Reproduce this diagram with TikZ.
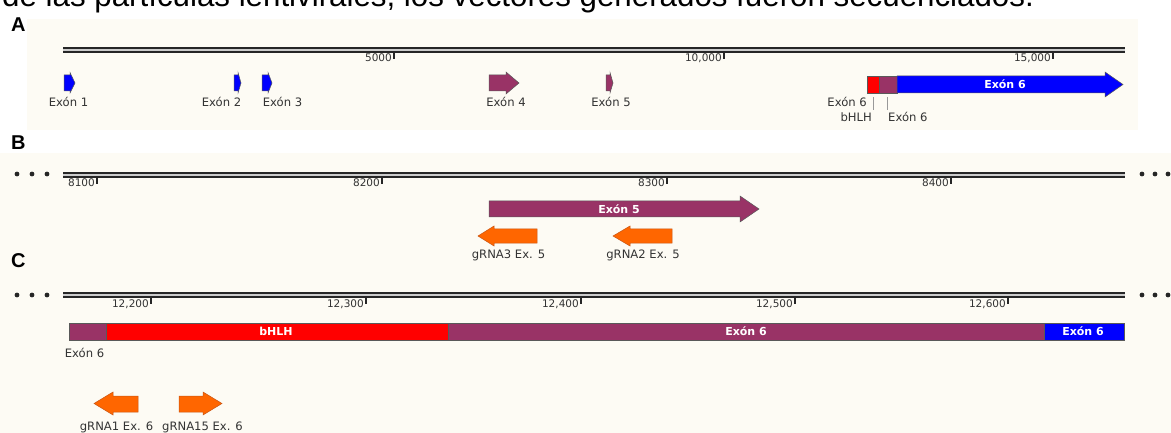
\documentclass[tikz,border=0pt]{standalone}
\usepackage{fontspec}
\setmainfont{DejaVu Sans}
\newfontfamily\arialf{Liberation Sans}
\definecolor{cream}{RGB}{253,251,244}
\definecolor{exonp}{RGB}{153,51,102}
\definecolor{exonb}{RGB}{0,0,255}
\definecolor{bhlhr}{RGB}{255,0,0}
\definecolor{grna}{RGB}{255,102,0}
\definecolor{grnaedge}{RGB}{200,85,20}
\definecolor{txt}{RGB}{51,51,51}
\tikzset{
  feat/.style={draw=black!65, line width=0.5pt},
  grnaarrow/.style={fill=grna, draw=grnaedge, line width=0.5pt},
  lbl/.style={font=\fontsize{11.6}{13}\selectfont, text=txt, inner sep=0pt},
  ticklbl/.style={font=\fontsize{10.5}{12}\selectfont, text=txt, inner sep=0pt, anchor=east},
  inlbl/.style={font=\bfseries\fontsize{11}{13}\selectfont, text=white, inner sep=0pt},
  panellbl/.style={font=\arialf\bfseries\fontsize{20}{22}\selectfont, inner sep=0pt, anchor=west},
  tickmark/.style={line width=1.3pt, black!85},
  leader/.style={black!40, line width=0.6pt},
  dotmark/.style={fill=black!85},
}
\begin{document}
\begin{tikzpicture}[x=1pt,y=-1pt]
\useasboundingbox (0,0) rectangle (1171,433);
\clip (0,0) rectangle (1171,433);
\fill[white] (0,0) rectangle (1171,433);
% backgrounds
\fill[cream] (27,19) rectangle (1138,130);
\fill[cream] (0,153) rectangle (1171,433);
% top cut text
\node[font=\arialf\fontsize{31.3}{34}\selectfont, anchor=base west, inner sep=0pt] (toptext) at (2,7) {de las partículas lentivirales, los vectores generados fueron secuenciados.};
% panel labels
\node[panellbl] (pA) at (11,25) {A};
\node[panellbl] (pB) at (11,143) {B};
\node[panellbl] (pC) at (11,261) {C};

% ===== Panel A =====
\fill[black!85] (63,47) rectangle (1125,53);
\draw[white!80!black, line width=1.3pt] (63,50) -- (1125,50);
\draw[tickmark] (394,53) -- (394,59);
\draw[tickmark] (724,53) -- (724,59);
\draw[tickmark] (1053,53) -- (1053,59);
\node[ticklbl] (a5000) at (392,58) {5000};
\node[ticklbl] (a10000) at (722,58) {10,000};
\node[ticklbl] (a15000) at (1051,58) {15,000};

\path[feat, fill=exonb] (64,75) -- (70,75) -- (70,72.5) -- (75,83) -- (70,93) -- (70,91) -- (64,91) -- cycle;
\path[feat, fill=exonb] (234,75) -- (238,75) -- (238,72.5) -- (241,83) -- (238,93) -- (238,91) -- (234,91) -- cycle;
\path[feat, fill=exonb] (262,75) -- (268,75) -- (268,72.5) -- (272,83) -- (268,93) -- (268,91) -- (262,91) -- cycle;
\path[feat, fill=exonp] (489,75) -- (506,75) -- (506,72) -- (519,83) -- (506,94) -- (506,91) -- (489,91) -- cycle;
\path[feat, fill=exonp] (606,75) -- (610,75) -- (610,72.5) -- (613,83) -- (610,93) -- (610,91) -- (606,91) -- cycle;
\path[feat, fill=bhlhr] (867,76) rectangle (879,93);
\path[feat, fill=exonp] (879,76) rectangle (897,93);
\path[feat, fill=exonb] (897,76) -- (1105,76) -- (1105,72) -- (1123,84.5) -- (1105,97) -- (1105,93) -- (897,93) -- cycle;
\node[inlbl] (aex6in) at (1005,84.5) {Exón 6};

\node[lbl] (aex1) at (68.5,102) {Exón 1};
\node[lbl] (aex2) at (221.5,102) {Exón 2};
\node[lbl] (aex3) at (282.5,102) {Exón 3};
\node[lbl] (aex4) at (506,102) {Exón 4};
\node[lbl] (aex5) at (611,102) {Exón 5};
\node[lbl, anchor=east] (aex6a) at (867,102) {Exón 6};
\node[lbl, anchor=east] (abhlh) at (872,117) {bHLH};
\node[lbl, anchor=west] (aex6b) at (888,117) {Exón 6};
\draw[leader] (873,97) -- (873,110);
\draw[leader] (887,97) -- (887,110);

% ===== Panel B =====
\foreach \dx in {17,32,47} \fill[dotmark] (\dx,174) circle (2.4);
\foreach \dx in {1142,1155,1168} \fill[dotmark] (\dx,174) circle (2.4);
\fill[black!85] (63,172) rectangle (1125,178);
\draw[white!80!black, line width=1.3pt] (63,175) -- (1125,175);
\draw[tickmark] (97,178) -- (97,184);
\draw[tickmark] (382,178) -- (382,184);
\draw[tickmark] (667,178) -- (667,184);
\draw[tickmark] (951,178) -- (951,184);
\node[ticklbl] (b8100) at (95,183) {8100};
\node[ticklbl] (b8200) at (380,183) {8200};
\node[ticklbl] (b8300) at (665,183) {8300};
\node[ticklbl] (b8400) at (949,183) {8400};

\path[feat, fill=exonp] (489,201) -- (740,201) -- (740,196) -- (759,209) -- (740,222) -- (740,217) -- (489,217) -- cycle;
\node[inlbl] (bex5in) at (619,209) {Exón 5};
\path[grnaarrow] (478,236) -- (494,226) -- (494,229) -- (537,229) -- (537,243) -- (494,243) -- (494,246) -- cycle;
\path[grnaarrow] (613,236) -- (630,226) -- (630,229) -- (672,229) -- (672,243) -- (630,243) -- (630,246) -- cycle;
\node[lbl] (bg3) at (508.5,255) {gRNA3 Ex. 5};
\node[lbl] (bg2) at (643,255) {gRNA2 Ex. 5};

% ===== Panel C =====
\foreach \dx in {17,32,47} \fill[dotmark] (\dx,295) circle (2.4);
\foreach \dx in {1142,1155,1168} \fill[dotmark] (\dx,295) circle (2.4);
\fill[black!85] (63,292) rectangle (1125,298);
\draw[white!80!black, line width=1.3pt] (63,295) -- (1125,295);
\draw[tickmark] (151,298) -- (151,304);
\draw[tickmark] (366,298) -- (366,304);
\draw[tickmark] (581,298) -- (581,304);
\draw[tickmark] (795,298) -- (795,304);
\draw[tickmark] (1008,298) -- (1008,304);
\node[ticklbl] (c12200) at (149,304) {12,200};
\node[ticklbl] (c12300) at (364,304) {12,300};
\node[ticklbl] (c12400) at (579,304) {12,400};
\node[ticklbl] (c12500) at (793,304) {12,500};
\node[ticklbl] (c12600) at (1006,304) {12,600};

\path[feat, fill=exonp] (69,323) rectangle (106,340);
\path[feat, fill=bhlhr] (106,323) rectangle (448,340);
\path[feat, fill=exonp] (448,323) rectangle (1044,340);
\path[feat, fill=exonb] (1044,323) rectangle (1124,340);
\node[inlbl] (cbhlh) at (276,331.5) {bHLH};
\node[inlbl] (cex6a) at (746,331.5) {Exón 6};
\node[inlbl] (cex6b) at (1083,331.5) {Exón 6};
\node[lbl] (cex6lbl) at (84.5,353) {Exón 6};

\path[grnaarrow] (94,403.5) -- (113,392) -- (113,396) -- (138,396) -- (138,412) -- (113,412) -- (113,415) -- cycle;
\path[grnaarrow] (222,403.5) -- (203,392) -- (203,396) -- (179,396) -- (179,412) -- (203,412) -- (203,415) -- cycle;
\node[lbl] (cg1) at (116.5,427) {gRNA1 Ex. 6};
\node[lbl] (cg15) at (202.5,427) {gRNA15 Ex. 6};
\end{tikzpicture}
\end{document}
